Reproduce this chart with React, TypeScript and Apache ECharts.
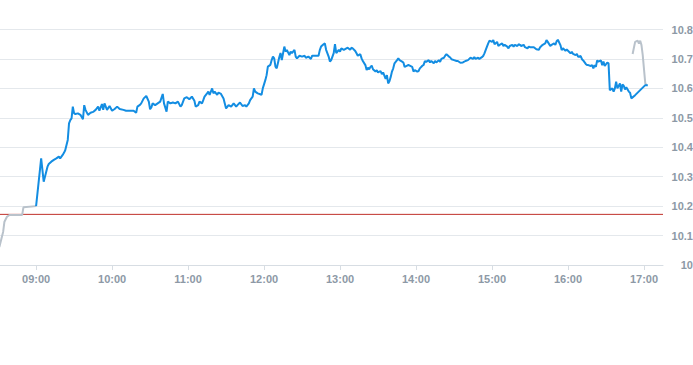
import React, { useEffect, useRef } from "react";
import * as echarts from "echarts";

// Pre-market (gray)
const preTimes = ["08:31", "08:34", "08:35", "08:37", "08:39", "08:49", "08:50", "09:00"];
const preValues = [10.061, 10.113, 10.147, 10.164, 10.17, 10.17, 10.196, 10.2];

// Regular session (blue)
const regTimes = [
  "09:00", "09:04", "09:06", "09:08", "09:09", "09:10", "09:12", "09:14", "09:16", "09:18",
  "09:19", "09:21", "09:22", "09:23", "09:25", "09:26", "09:27", "09:28", "09:29", "09:30",
  "09:31", "09:33", "09:35", "09:37", "09:38", "09:39", "09:41", "09:43", "09:45", "09:47",
  "09:49", "09:50", "09:52", "09:53", "09:54", "09:56", "09:58", "10:00", "10:02", "10:04",
  "10:06", "10:09", "10:11", "10:14", "10:17", "10:19", "10:20", "10:22", "10:23", "10:25",
  "10:27", "10:29", "10:30", "10:31", "10:32", "10:34", "10:36", "10:38", "10:40", "10:41",
  "10:43", "10:44", "10:46", "10:48", "10:50", "10:52", "10:54", "10:55", "10:57", "10:59",
  "11:01", "11:03", "11:05", "11:06", "11:08", "11:09", "11:11", "11:12", "11:13", "11:15",
  "11:16", "11:17", "11:19", "11:20", "11:21", "11:23", "11:24", "11:26", "11:28", "11:29",
  "11:30", "11:32", "11:34", "11:36", "11:38", "11:39", "11:41", "11:43", "11:45", "11:46",
  "11:48", "11:49", "11:51", "11:52", "11:53", "11:55", "11:57", "11:58", "11:59", "12:01",
  "12:02", "12:03", "12:05", "12:06", "12:07", "12:08", "12:09", "12:10", "12:12", "12:13",
  "12:14", "12:16", "12:17", "12:18", "12:20", "12:21", "12:22", "12:24", "12:25", "12:26",
  "12:28", "12:30", "12:32", "12:33", "12:35", "12:37", "12:38", "12:40", "12:43", "12:44",
  "12:45", "12:47", "12:48", "12:49", "12:51", "12:52", "12:53", "12:55", "12:56", "12:57",
  "12:59", "13:00", "13:01", "13:03", "13:05", "13:06", "13:08", "13:09", "13:10", "13:12",
  "13:13", "13:14", "13:16", "13:17", "13:18", "13:20", "13:21", "13:22", "13:23", "13:24",
  "13:25", "13:26", "13:28", "13:29", "13:30", "13:32", "13:33", "13:34", "13:36", "13:37",
  "13:38", "13:39", "13:40", "13:41", "13:42", "13:43", "13:45", "13:46", "13:47", "13:49",
  "13:50", "13:51", "13:53", "13:54", "13:55", "13:57", "13:58", "13:59", "14:01", "14:02",
  "14:03", "14:05", "14:06", "14:07", "14:08", "14:10", "14:11", "14:12", "14:14", "14:15",
  "14:16", "14:18", "14:19", "14:20", "14:22", "14:23", "14:24", "14:26", "14:27", "14:28",
  "14:30", "14:32", "14:33", "14:35", "14:37", "14:39", "14:41", "14:43", "14:45", "14:46",
  "14:47", "14:49", "14:50", "14:52", "14:53", "14:54", "14:56", "14:57", "14:58", "15:00",
  "15:01", "15:02", "15:04", "15:05", "15:06", "15:08", "15:09", "15:10", "15:12", "15:13",
  "15:14", "15:16", "15:17", "15:18", "15:20", "15:21", "15:22", "15:23", "15:25", "15:26",
  "15:28", "15:29", "15:30", "15:33", "15:35", "15:37", "15:38", "15:39", "15:40", "15:42",
  "15:43", "15:44", "15:46", "15:47", "15:49", "15:50", "15:51", "15:52", "15:54", "15:55",
  "15:56", "15:58", "15:59", "16:00", "16:02", "16:03", "16:04", "16:06", "16:07", "16:08",
  "16:10", "16:11", "16:12", "16:14", "16:15", "16:16", "16:18", "16:19", "16:20", "16:21",
  "16:22", "16:23", "16:24", "16:26", "16:27", "16:28", "16:29", "16:31", "16:32", "16:33",
  "16:35", "16:36", "16:37", "16:38", "16:39", "16:41", "16:42", "16:43", "16:44", "16:45",
  "16:46", "16:48", "16:49", "16:50", "16:53", "16:57", "17:01", "17:03",
];
const regValues = [
  10.2, 10.362, 10.283, 10.317, 10.334, 10.343, 10.351, 10.357, 10.362, 10.368,
  10.362, 10.374, 10.381, 10.39, 10.425, 10.481, 10.492, 10.498, 10.538, 10.515,
  10.513, 10.515, 10.51, 10.495, 10.543, 10.527, 10.51, 10.517, 10.52, 10.527,
  10.538, 10.524, 10.547, 10.527, 10.549, 10.527, 10.54, 10.524, 10.53, 10.538,
  10.53, 10.527, 10.524, 10.524, 10.524, 10.517, 10.538, 10.544, 10.549, 10.566,
  10.574, 10.555, 10.529, 10.535, 10.549, 10.543, 10.549, 10.555, 10.581, 10.549,
  10.521, 10.555, 10.549, 10.552, 10.549, 10.555, 10.538, 10.543, 10.566, 10.57,
  10.563, 10.572, 10.558, 10.538, 10.543, 10.555, 10.549, 10.56, 10.572, 10.583,
  10.589, 10.578, 10.6, 10.583, 10.589, 10.578, 10.586, 10.581, 10.566, 10.549,
  10.532, 10.543, 10.538, 10.549, 10.538, 10.543, 10.552, 10.54, 10.543, 10.538,
  10.549, 10.56, 10.572, 10.6, 10.589, 10.583, 10.58, 10.578, 10.6, 10.628,
  10.645, 10.674, 10.68, 10.696, 10.708, 10.702, 10.674, 10.668, 10.706, 10.72,
  10.696, 10.742, 10.725, 10.731, 10.713, 10.725, 10.72, 10.731, 10.708, 10.702,
  10.711, 10.708, 10.711, 10.704, 10.708, 10.7, 10.711, 10.711, 10.711, 10.73,
  10.742, 10.75, 10.753, 10.731, 10.708, 10.691, 10.696, 10.72, 10.75, 10.72,
  10.731, 10.725, 10.736, 10.731, 10.736, 10.738, 10.731, 10.738, 10.736, 10.727,
  10.719, 10.711, 10.716, 10.702, 10.693, 10.679, 10.662, 10.67, 10.665, 10.673,
  10.677, 10.665, 10.657, 10.662, 10.654, 10.659, 10.648, 10.654, 10.632, 10.645,
  10.617, 10.624, 10.639, 10.657, 10.668, 10.685, 10.696, 10.702, 10.696, 10.691,
  10.688, 10.673, 10.677, 10.68, 10.677, 10.673, 10.657, 10.662, 10.657, 10.659,
  10.668, 10.677, 10.68, 10.693, 10.69, 10.696, 10.688, 10.693, 10.685, 10.693,
  10.688, 10.696, 10.69, 10.7, 10.704, 10.711, 10.716, 10.708, 10.705, 10.699,
  10.696, 10.693, 10.693, 10.687, 10.688, 10.693, 10.696, 10.704, 10.7, 10.706,
  10.7, 10.704, 10.7, 10.706, 10.71, 10.719, 10.742, 10.753, 10.762, 10.758,
  10.764, 10.75, 10.758, 10.744, 10.748, 10.753, 10.744, 10.748, 10.742, 10.736,
  10.744, 10.748, 10.742, 10.748, 10.744, 10.75, 10.748, 10.744, 10.748, 10.74,
  10.736, 10.742, 10.74, 10.74, 10.733, 10.731, 10.74, 10.744, 10.748, 10.753,
  10.764, 10.758, 10.744, 10.748, 10.753, 10.748, 10.76, 10.765, 10.747, 10.73,
  10.736, 10.728, 10.732, 10.728, 10.719, 10.724, 10.717, 10.713, 10.717, 10.707,
  10.71, 10.699, 10.695, 10.683, 10.679, 10.679, 10.676, 10.679, 10.668, 10.679,
  10.673, 10.695, 10.691, 10.695, 10.679, 10.691, 10.676, 10.688, 10.685, 10.594,
  10.6, 10.589, 10.6, 10.623, 10.6, 10.617, 10.589, 10.613, 10.609, 10.596,
  10.604, 10.589, 10.585, 10.566, 10.577, 10.594, 10.611, 10.611,
];

// After-hours (gray)
const postTimes = ["16:51", "16:53", "16:55", "16:56", "16:57", "16:58", "16:59", "17:01", "17:02"];
const postValues = [10.717, 10.758, 10.762, 10.752, 10.762, 10.747, 10.713, 10.617, 10.611];

const previousClose = 10.172;
const hourTicks = ["09:00", "10:00", "11:00", "12:00", "13:00", "14:00", "15:00", "16:00", "17:00"];
const yTicks = { min: 10, max: 10.8, step: 0.1 };
const xRange = { start: "08:31:30", end: "17:15" };

function toMin(s: string): number {
  const p = s.split(":").map(Number);
  return p[0] * 60 + p[1] + (p[2] || 0) / 60;
}
function fmt(m: number): string {
  const h = Math.floor(m / 60);
  const mm = Math.round(m - h * 60);
  return String(h).padStart(2, "0") + ":" + String(mm).padStart(2, "0");
}
function pairs(t: string[], v: number[]) {
  return t.map((s, i) => [toMin(s), v[i]]);
}

export default function App() {
  const ref = useRef<HTMLDivElement>(null);
  useEffect(() => {
    if (!ref.current) return;
    const chart = echarts.init(ref.current, undefined, { renderer: "svg" });
    const tickMins = hourTicks.map(toMin);
    const labelStyle = {
      color: "#8d99a6",
      fontSize: 11,
      fontWeight: "bold" as const,
      fontFamily: "Liberation Sans, Arial, sans-serif",
    };
    const prevLine = pairs([xRange.start, xRange.end], [previousClose, previousClose]);
    chart.setOption({
      animation: false,
      grid: {
        left: 0,
        right: 30,
        top: 29.5,
        bottom: 100,
        containLabel: false,
        outerBoundsMode: "none",
      },
      xAxis: {
        type: "value",
        min: toMin(xRange.start),
        max: toMin(xRange.end),
        splitLine: { show: false },
        axisLine: { show: true, lineStyle: { color: "#d7dde3", width: 1 } },
        axisTick: { show: true, customValues: tickMins, length: 5, lineStyle: { color: "#d7dde3" } },
        axisLabel: {
          ...labelStyle,
          customValues: tickMins,
          formatter: (v: number) => fmt(v),
          margin: 8,
          hideOverlap: false,
        },
      },
      yAxis: {
        type: "value",
        position: "right",
        min: yTicks.min,
        max: yTicks.max,
        interval: yTicks.step,
        axisLine: { show: false },
        axisTick: { show: false },
        splitLine: { show: true, lineStyle: { color: "#e4e8ec", width: 1 } },
        axisLabel: {
          ...labelStyle,
          align: "right",
          margin: 30,
          overflow: "none",
          formatter: (v: number) => String(Math.round(v * 10) / 10),
        },
      },
      series: [
        {
          type: "line",
          data: prevLine,
          symbol: "none",
          silent: true,
          lineStyle: { color: "#c0302a", width: 1 },
          z: 1,
        },
        {
          type: "line",
          data: pairs(preTimes, preValues),
          symbol: "none",
          lineStyle: { color: "#b9c2cb", width: 2 },
          z: 2,
        },
        {
          type: "line",
          data: pairs(regTimes, regValues),
          symbol: "none",
          lineStyle: { color: "#138de2", width: 2 },
          z: 3,
        },
        {
          type: "line",
          data: pairs(postTimes, postValues),
          symbol: "none",
          lineStyle: { color: "#b9c2cb", width: 2 },
          z: 2,
        },
      ],
    });
    return () => chart.dispose();
  }, []);
  return (
    <div
      ref={ref}
      style={{ position: "absolute", left: 0, top: 0, width: 693, height: 365 }}
    />
  );
}
